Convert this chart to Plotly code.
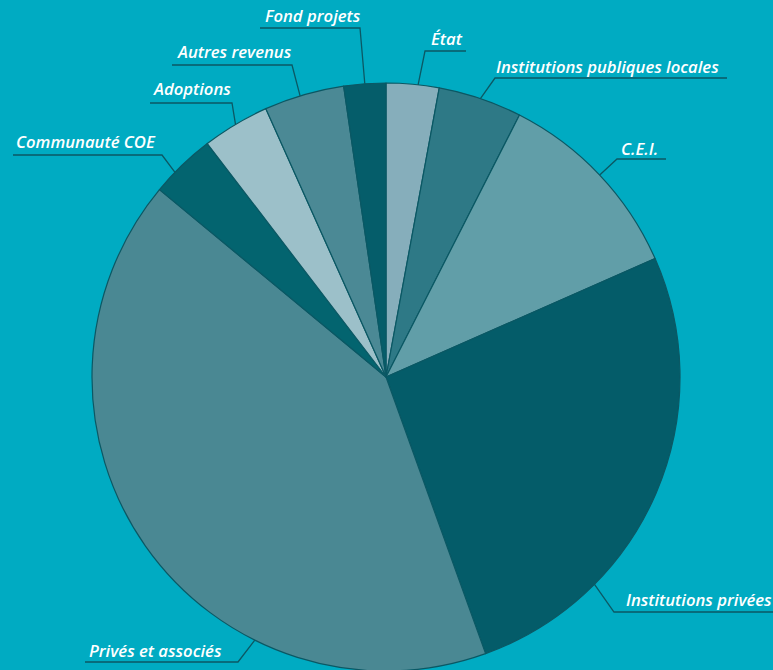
import math
import plotly.graph_objects as go

# ---- data (clockwise from 12 o'clock) ----
labels = ["État", "Institutions publiques locales", "C.E.I.", "Institutions privées",
          "Privés et associés", "Communauté COE", "Adoptions", "Autres revenus", "Fond projets"]
values = [2.9, 4.6, 10.9, 26.1, 41.5, 3.6, 3.7, 4.4, 2.3]
colors = ["#86aebb", "#2e7986", "#619ea8", "#045c69", "#4a8893",
          "#03646f", "#9cc0c9", "#4b8995", "#055d6a"]

# ---- layout / style ----
W, H = 773, 680
CX, CY, R = 386, 377, 294
BG = "#00abc2"
LINE = "#0b5864"

# label placement: text left x, text centre y, underline y, underline x0, x1,
# side of the underline joined to the leader, position of leader within slice
label_layout = {
    "Fond projets":                   (263, 15, 28, 260, 360, "right", 0.5),
    "Autres revenus":                 (175, 51, 65, 172, 292, "right", 0.45),
    "Adoptions":                      (151, 88, 103, 150, 232, "right", 0.5),
    "Communauté COE":                 (14, 141, 155, 13, 162, "right", 0.35),
    "État":                           (429, 38, 51, 425, 466, "left", 0.6),
    "Institutions publiques locales": (494, 66, 78, 495, 727, "left", 0.5),
    "C.E.I.":                         (619, 148, 159, 617, 666, "left", 0.5),
    "Institutions privées":           (624, 599, 612, 614, 780, "left", 0.73),
    "Privés et associés":             (87, 650, 662, 85, 238, "right", 0.31),
}

total = sum(values)
fig = go.Figure()
fig.add_trace(go.Pie(
    labels=labels, values=values, sort=False, direction="clockwise", rotation=0,
    marker=dict(colors=colors, line=dict(color=LINE, width=1.2)),
    textinfo="none", hoverinfo="skip", showlegend=False,
    domain=dict(x=[(CX - R) / W, (CX + R) / W], y=[(H - CY - R) / H, (H - CY + R) / H]),
))

# hidden pixel-coordinate axes for labels and leader lines
fig.add_trace(go.Scatter(x=[0], y=[0], mode="markers", marker=dict(opacity=0),
                         hoverinfo="skip", showlegend=False))

shapes, annotations = [], []
cum = 0.0
for lab, v in zip(labels, values):
    tx, ty, uy, ux0, ux1, side, frac = label_layout[lab]
    ang = math.radians((cum + v * frac) / total * 360.0)
    cum += v
    ex = CX + R * math.sin(ang)
    ey = CY - R * math.cos(ang)
    if side == "right":
        path = f"M {ux0},{uy} L {ux1},{uy} L {ex:.1f},{ey:.1f}"
    else:
        path = f"M {ux1},{uy} L {ux0},{uy} L {ex:.1f},{ey:.1f}"
    shapes.append(dict(type="path", path=path, xref="x", yref="y",
                       line=dict(color=LINE, width=1.3), layer="above"))
    annotations.append(dict(x=tx, y=ty, xref="x", yref="y", text=lab, showarrow=False,
                            xanchor="left", yanchor="middle",
                            font=dict(family="Open Sans", size=16.7, color="white",
                                      style="italic", weight=600)))

fig.update_layout(
    width=W, height=H, margin=dict(l=0, r=0, t=0, b=0),
    paper_bgcolor=BG, plot_bgcolor=BG,
    xaxis=dict(range=[0, W], visible=False, fixedrange=True),
    yaxis=dict(range=[H, 0], visible=False, fixedrange=True),
    shapes=shapes, annotations=annotations, showlegend=False,
)

fig.write_html("out.html", config={"displayModeBar": False},
               post_script="document.body.style.margin='0';document.body.style.overflow='hidden';document.documentElement.style.overflow='hidden';")
